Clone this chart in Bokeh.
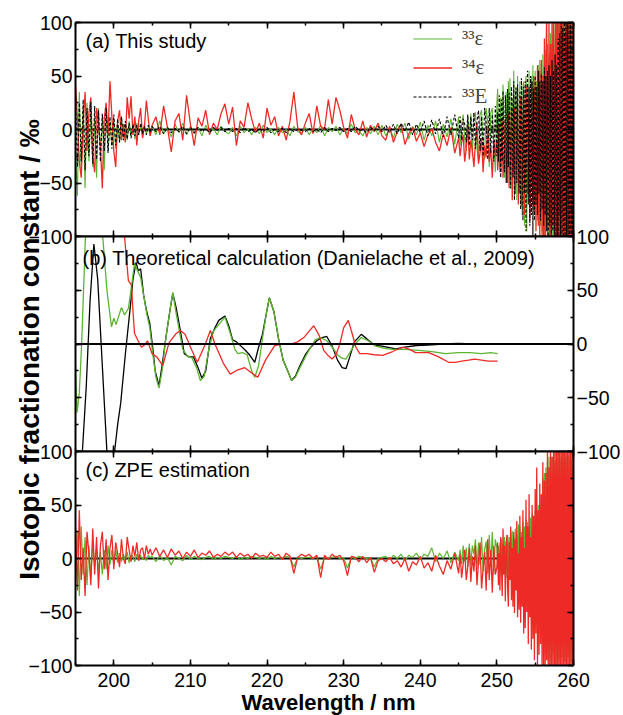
import numpy as np
from bokeh.plotting import figure
from bokeh.layouts import column, row
from bokeh.models import (Range1d, LinearAxis, SingleIntervalTicker, Span, Label,
                          Legend, LegendItem)
from bokeh.embed import file_html
from bokeh.resources import INLINE

# ---------------- data ----------------
# wavelength grid of the measured / ZPE spectra (nm)
WL = np.concatenate([np.arange(195.0, 204.9, 0.25),   # 40 values
                     np.arange(205.0, 244.6, 0.5),    # 80 values
                     np.arange(245.0, 249.9, 0.2),    # 25 values
                     np.arange(250.0, 260.05, 0.1)])  # 101 values

# (a) This study -------------------------------------------------
A_E33 = [  # 33-epsilon (green)
    -20, -62, 35, -40, 20, -55, 25, -30, 15, -35,
    10, -45, 20, -25, 12, -38, 18, -20, 8, -15,
    10, -18, 6, -12, 12, -8, 5, -10, 8, -6,
    4, -9, 6, -5, 3, -7, 5, -4, 2, -6,
    3, -5, 8, -4, 2, -7, 5, -3, 6, -5,
    3, -4, 2, -6, 4, -3, 1, -5, 3, -2,
    -4, 2, -6, 3, -3, 1, -5, 2, -4, 4,
    -3, 1, -5, 2, -3, 0, -6, 3, -2, -4,
    2, -5, 1, -3, 4, -6, 2, -2, 3, -5,
    1, -4, 5, -3, -1, -6, 2, -4, 3, -5,
    4, -6, 2, -8, 5, -3, 6, -9, 3, -5,
    7, -10, 4, -6, 8, -12, 5, -7, 10, -14,
    12, -15, 5, 14, -10, -20, 12, -8, 15, -25,
    10, 16, -18, -30, 14, 18, -12, -28, 20, 8,
    -35, 16, 20, -15, -40,
    25, 38, -20, -35, 10, 30, -40, -25, 42, 15,
    -45, -30, 35, 20, -50, 45, -25, 48, -55, 10,
    30, -40, 55, -20, -60, 40, -66, 50, -30, -45,
    45, -70, 30, -80, 40, 45, -90, 20, 50, -95,
    40, -60, 55, -30, -70, 50, -45, 60, -75, 30,
    55, -80, 45, -85, 60, -60, 65, -90, 55, -95,
    70, -100, 60, -105, 75, -90, 80, -110, 70, -100,
    90, -105, 80, -110, 95, -100, 100, -110, 100, -105,
    110, -100, 105, -110, 100, -110, 110, -105, 100, -110,
    105, -100, 110, -110, 100, -105, 110, -100, 105, -110,
    95]
A_E34 = [  # 34-epsilon (red)
    42, 10, -30, -45, 5, 35, -20, 15, 30, -25,
    -40, 20, 5, -15, -55, 10, 25, -5, 45, 12,
    -20, -35, 8, 18, -10, 5, -12, 30, 10, 31,
    -5, 12, -15, 8, 20, -8, 3, 27, 10, -6,
    4, 12, -5, 22, 2, -21, 8, 15, -10, 32,
    5, -15, 11, 3, 18, -5, 6, 0, 15, 24,
    5, 21, -15, 8, 2, 25, 10, -3, 6, -8,
    20, 4, 12, -6, 3, -10, 8, 35, 2, -5,
    6, 15, -4, 22, 3, 0, 28, 5, 30, 18,
    2, -8, 14, 0, -5, 8, -7, 4, -2, 6,
    -6, -10, 3, -12, -2, 5, -14, -4, 2, -11,
    -3, -16, -5, 1, -12, -20, -4, -15, 2, -22,
    -8, -25, -12, -5, -30, -18, 4, -28, -10, -20,
    -35, -12, 6, -32, -22, -8, -40, -15, -26, 3,
    -30, -18, -45, -10, -25,
    -10, -38, -20, 5, -40, -25, -15, 8, -45, -30,
    -20, 10, -50, -28, -12, 15, -55, -35, -25, 18,
    -66, -40, -15, 20, -60, -30, -20, 25, -70, -45,
    -30, 30, -72, -50, -10, 35, -80, -40, -20, 40,
    -60, -25, 30, -85, -50, 45, -40, -70, 50, -80,
    40, -95, -30, 60, -90, 55, -100, 20, 65, -100,
    50, -105, 85, -110, 60, 110, -100, -60, 100, -105,
    80, -110, 110, -90, 100, -110, 60, 110, -100, 100,
    -110, 110, -80, 100, -110, 105, -100, 110, -110, 90,
    -100, 110, -110, 110, -105, 100, -110, 110, -100, 110,
    -100]
A_CE33 = [  # capital 33E (black dashed)
    30, -35, 25, -30, 28, -38, 20, -25, 26, -32,
    22, -28, 18, -30, 15, -20, 20, -22, 12, -18,
    14, -15, 10, -12, 12, -10, 8, -9, 6, -8,
    5, -6, 4, -5, 6, -4, 3, -5, 4, -3,
    3, -2, 3, -4, 2, -3, 1, -2, 3, -4,
    2, -3, 2, -2, 1, -3, 2, -1, 2, -2,
    1, -2, 1, -3, 2, -2, 0, -3, 1, -2,
    2, -3, 0, -2, 1, -3, 1, -2, 0, -1,
    -2, 1, -2, 0, -3, 2, -2, 1, -1, 2,
    -2, 1, -2, 3, -1, 0, -3, 2, -1, 3,
    -2, 4, -3, 5, -4, 6, -2, 7, -5, 5,
    -3, 8, -6, 9, -4, 10, -7, 12, -5, 14,
    -8, 12, -10, 10, 5, -12, 14, -15, 12, -10,
    16, -18, 8, 18, -20, 12, -25, 20, 6, -28,
    20, -22, 14, -30, 22,
    -25, 16, -30, 32, 10, -45, 28, -30, 36, -20,
    -40, 32, 15, -50, 38, -35, 34, -15, -55, 40,
    20, -45, 45, -66, 30, 39, -50, 42, -25, -60,
    35, -75, 48, 10, -85, 40, -60, 45, -95, 30,
    55, -70, 40, -90, 50, -80, 45, -100, 38, -85,
    50, -70, 40, -80, 55, -60, 45, -85, 52, -75,
    45, -90, 58, -80, 50, -95, 55, -100, 60, -90,
    50, -100, 65, -95, 55, -105, 70, -100, 60, -110,
    85, -105, 90, -110, 100, -100, 95, -110, 105, -100,
    110, -100, 105, -110, 100, -110, 110, -105, 100, -110,
    90]

# (c) ZPE estimation ---------------------------------------------
C_E33 = [
    -20, 25, -35, 30, -15, 20, -25, 12, -18, 15,
    -8, 10, -12, 6, -15, 8, -10, 12, -6, 8,
    -5, 8, -4, 5, -3, 4, -2, 6, -4, 3,
    2, -3, 4, -2, 3, -1, 2, -2, 3, 1,
    2, -3, 3, -2, 1, -6, 2, 0, -2, 3,
    -1, 2, 0, -1, 1, 2, -1, 1, 0, 2,
    1, 0, 2, -1, 1, 0, 2, 1, 0, 1,
    -1, 2, 0, 1, 0, 2, 1, -8, 1, 0,
    1, 1, 0, 2, -10, 1, 0, 1, 2, 0,
    1, -9, 1, 0, 2, 1, 0, 1, -8, 0,
    1, 2, -1, 3, 0, 4, -2, 3, 1, 5,
    -1, 4, 2, 10, -3, 5, 0, 7, -4, 6,
    -2, 8, -5, 12, -3, 10, -8, 14, -6, 12,
    4, 18, -10, 15, -6, 20, -12, 8, 16, -14,
    22, -8, 25, -15, 18,
    10, -5, 12, -10, 15, -8, 18, -12, 14, -15,
    20, -10, 16, -18, 22, -14, 20, -20, 24, -16,
    26, -22, 20, -25, 28, -26, 22, -30, 32, -34,
    30, -35, 25, -38, 34, -40, 30, -44, 36, -42,
    34, -46, 30, -50, 38, -48, 42, -52, 36, -55,
    45, -60, 40, -62, 50, -66, 42, -70, 55, -68,
    75, -85, 80, -90, 85, -88, 90, -95, 95, -82,
    90, -100, 95, -90, 100, -95, 90, -100, 95, -92,
    100, -95, 90, -100, 95, -92, 100, -105, 92, -96,
    95, -100, 100, -92, 96, -105, 92, -97, 100, -94,
    100]
C_E34 = [
    30, -30, 45, -20, 10, -35, 25, 5, -25, 28,
    -15, 20, -28, 12, 25, -10, 18, -20, 10, 22,
    -10, 15, 5, -8, 18, 0, -5, 20, 8, -3,
    12, 2, 15, -2, 8, 10, 0, 12, 4, 9,
    3, 10, 2, 8, 1, 9, 3, 7, 0, 6,
    2, 8, 1, 5, 3, 7, 1, 4, 2, 6,
    3, 6, 1, 5, 2, 4, 0, 5, 2, 3,
    1, 6, 2, 4, -1, 5, 2, -14, 1, 4,
    2, 4, 0, 3, -18, 3, -1, 4, 1, 3,
    -2, -16, 2, 1, -3, 2, -4, 1, -13, -2,
    0, -3, 1, -5, -2, -8, 0, -12, -3, -6,
    2, -9, -4, -12, 3, -7, -15, -2, -10, 5,
    -14, 4, -18, -5, 8, -20, -8, 10, -22, 2,
    -12, 12, -25, -3, 15, -28, -10, 6, -30, 18,
    -20, 8, -32, 12, -15,
    -8, 15, -25, 5, -30, 20, -10, -35, 28, -15,
    12, -40, 5, 22, -28, -45, 15, -20, 30, -39,
    10, -45, 25, -51, 18, -30, 35, -55, 5, -48,
    40, -60, 20, -45, 45, -70, 10, -65, 55, -50,
    30, -80, 60, -55, 20, -85, 50, -75, 40, -95,
    65, -70, 85, -100, 45, -90, 70, -80, 60, -105,
    90, -100, 73, -110, 80, -95, 100, -110, 85, -100,
    105, -110, 95, -100, 110, -110, 100, -105, 110, -110,
    100, -110, 110, -105, 100, -110, 110, -100, 105, -110,
    110, -105, 100, -110, 110, -110, 105, -100, 110, -110,
    100]

# (b) Theoretical calculation (Danielache et al., 2009) -----------
B_E33_WL = [195.0, 195.2, 195.5, 195.8, 196.1, 196.3, 197.0, 198.0, 198.6, 199.1,
            199.7, 200.0, 200.3, 200.6, 201.0, 201.4, 201.9, 202.3, 202.7, 203.1,
            203.5, 203.9, 204.3, 204.7, 205.1, 205.5, 205.9, 206.3, 206.8, 207.3,
            207.7, 208.1, 208.5, 209.0, 209.6, 210.2, 210.8, 211.3, 211.8, 212.4,
            213.0, 213.7, 214.5, 215.2, 215.8, 216.2, 216.8, 217.4, 218.0, 218.4,
            218.9, 219.4, 219.9, 220.3, 220.9, 221.5, 222.1, 222.7, 223.2, 223.7,
            224.3, 225.0, 225.7, 226.3, 227.0, 227.8, 228.5, 229.2, 229.7, 230.3,
            230.8, 231.5, 232.3, 233.2, 234.2, 235.3, 236.4, 238.0, 239.8, 241.5,
            243.3, 245.0, 246.5, 248.0, 249.2, 250.1]
B_E33 = [-20, -64, -45, 0, 60, 100, 140, 130, 96, 50,
         16, 24, 18, 25, 34, 27, 33, 53, 75, 68,
         62, 45, 28, 15, -10, -31, -41, -25, 6, 30,
         48, 30, 14, -5, -11, -13, -22, -34, -30, -5,
         12, 18, 25, 10, -5, -9, -8, -10, -25, -31,
         -20, 5, 28, 43, 30, 5, -15, -25, -34, -31,
         -22, -12, -3, 4, 6, 3, -3, -10, -13, -14,
         -8, 0, 6, 3, -2, -4, -5, -5, -6, -7,
         -9, -8, -8, -9, -8, -9]
B_E34_WL = [200.6, 201.4, 201.9, 202.3, 202.5, 202.7, 203.1, 203.6, 204.0, 204.4,
            205.0, 205.6, 206.4, 207.2, 208.1, 208.7, 209.3, 210.2, 210.9, 211.9,
            212.6, 213.2, 214.3, 215.2, 216.2, 217.1, 218.0, 218.8, 219.8, 221.0,
            222.0, 223.1, 224.0, 224.8, 225.5, 226.1, 226.8, 227.4, 228.0, 228.5,
            229.0, 229.5, 230.0, 230.6, 231.1, 231.6, 232.1, 233.0, 234.0, 235.1,
            236.4, 237.7, 238.6, 239.4, 240.3, 241.1, 242.4, 243.7, 244.6, 245.4,
            246.3, 247.1, 248.0, 248.9, 249.5, 250.1]
B_E34 = [140, 100, 59, 55, 31, 10, 4, -3, -1, 3,
         -9, -12, -20, 1, 9.5, 12.6, 9, -6, -17, -1,
         12.5, 0, -18, -28, -24, -22, -27, -31, -15, -1.5,
         0, 0, 2, 6, 12, 17, 8, -6, -11, -14,
         -10, 0, 15, 22, 10, -3, -9, -9, -10, -10.6,
         -7, -3, -5, -8, -8, -8, -12, -17, -17, -16,
         -15, -14, -15, -16, -16, -16]
B_CE33_WL = [195.9, 196.4, 196.9, 197.4, 197.9, 198.5, 199.1, 199.6, 200.1, 200.5,
             200.9, 201.5, 202.1, 202.5, 202.9, 203.2, 203.5, 203.9, 204.3, 204.7,
             205.1, 205.4, 205.9, 206.3, 206.8, 207.3, 207.7, 208.1, 208.5, 209.2,
             209.8, 210.4, 211.0, 211.5, 212.0, 212.6, 213.2, 213.7, 214.5, 215.0,
             215.5, 216.0, 216.6, 217.2, 217.7, 218.4, 218.9, 219.4, 219.9, 220.3,
             220.9, 221.5, 222.1, 222.7, 223.2, 223.7, 224.3, 225.0, 225.7, 226.5,
             227.2, 227.8, 228.5, 229.2, 229.8, 230.3, 230.8, 231.4, 232.3, 233.0,
             234.0, 235.0, 236.8, 238.0, 239.5, 241.0, 243.0, 245.0, 246.8, 248.4]
B_CE33 = [-100, -40, 40, 93, 60, -20, -100, -120, -100, -75,
          -55, -10, 31, 60, 76, 68, 70, 45, 30, 19,
          -5, -25, -39, -20, 6, 30, 47, 35, 20, -9,
          -12, -12, -22, -32, -25, 5, 15, 22, 26, 17,
          4, 2, -2, -6, -10, -17, -3, 9, 28, 43,
          30, 5, -15, -25, -34, -30, -20, -10, -3, 3,
          6, 7, -2, -15, -22, -23, -12, 2, 9, 5,
          -1, -2, -4.5, -3, -1.4, -1, 0, 0.5, 0, 0]

PANEL_TEXT = ["(a) This study",
              "(b) Theoretical calculation (Danielache et al., 2009)",
              "(c) ZPE estimation"]
LEGEND_LABELS = ["\u00b3\u00b3\u03b5", "\u00b3\u2074\u03b5", "\u00b3\u00b3E"]
Y_TITLE = "Isotopic fractionation constant / \u2030"
X_TITLE = "Wavelength / nm"

GREEN = "#5cb531"
RED = "#ee2a26"
SANS = "Liberation Sans"
SERIF = "Liberation Serif"
TICK_FS = "19.5px"

# ---------------- layout helpers ----------------
XR = Range1d(195, 260)
PAD = 14   # transparent overlap band between stacked panels


def make_panel(height, top, bottom, left_lab, right_lab, bottom_lab, margin):
    p = figure(width=623, height=height, x_range=XR, y_range=Range1d(-100, 100),
               output_backend="svg", toolbar_location=None,
               x_axis_location=None, y_axis_location=None,
               min_border_left=75, min_border_right=42,
               min_border_top=top, min_border_bottom=bottom, margin=margin)
    p.xgrid.visible = False
    p.ygrid.visible = False
    p.outline_line_color = None
    p.border_fill_alpha = 0
    p.background_fill_color = "white"
    specs = [("left", left_lab, 50), ("right", right_lab, 50),
             ("above", False, 10), ("below", bottom_lab, 10)]
    for loc, lab, iv in specs:
        ax = LinearAxis(ticker=SingleIntervalTicker(interval=iv, num_minor_ticks=2))
        ax.axis_line_width = 2
        ax.axis_line_color = "black"
        ax.major_tick_in = 6
        ax.major_tick_out = 0
        ax.minor_tick_in = 3
        ax.minor_tick_out = 0
        ax.major_tick_line_width = 1.5
        ax.minor_tick_line_width = 1.5
        ax.major_label_text_font = SANS
        ax.major_label_text_font_size = TICK_FS
        if lab:
            ax.major_label_text_color = "black"
            ax.major_label_standoff = 7 if loc == "below" else 3
        else:
            ax.major_label_text_color = None
            ax.major_label_standoff = 0
        p.add_layout(ax, loc)
    return p


p1 = make_panel(22 + 214 + PAD, 22, PAD, True, False, False, (0, 0, 0, 0))
p2 = make_panel(PAD + 215 + PAD, PAD, PAD, False, True, False, (-2 * PAD, 0, 0, 0))
p3 = make_panel(PAD + 214 + 50, PAD, 50, True, False, True, (-2 * PAD, 0, 0, 0))

# zero lines
p1.add_layout(Span(location=0, dimension="width", line_color="black",
                   line_width=2, level="underlay"))
p2.add_layout(Span(location=0, dimension="width", line_color="black", line_width=2))
p3.add_layout(Span(location=0, dimension="width", line_color="black",
                   line_width=2, level="underlay"))

# panel (a)
rg = p1.line(WL, A_E33, line_color=GREEN, line_width=1.1)
rr = p1.line(WL, A_E34, line_color=RED, line_width=1.3)
rk = p1.line(WL, A_CE33, line_color="black", line_width=1.1, line_dash="3 2")

legend = Legend(items=[LegendItem(label=LEGEND_LABELS[0], renderers=[rg]),
                       LegendItem(label=LEGEND_LABELS[1], renderers=[rr]),
                       LegendItem(label=LEGEND_LABELS[2], renderers=[rk])],
                location=(338, 125), orientation="vertical",
                glyph_width=39, glyph_height=29, label_height=29, spacing=0,
                padding=0, margin=0, label_standoff=10,
                label_text_font=SERIF, label_text_font_size="21px",
                background_fill_alpha=0, border_line_color=None)
p1.add_layout(legend)

# panel (b)
p2.line(B_CE33_WL, B_CE33, line_color="black", line_width=1.3)
p2.line(B_E33_WL, B_E33, line_color=GREEN, line_width=1.3)
p2.line(B_E34_WL, B_E34, line_color=RED, line_width=1.3)

# panel (c)
p3.line(WL, C_E33, line_color=GREEN, line_width=1.2)
p3.line(WL, C_E34, line_color=RED, line_width=1.3)

# panel captions (screen units from the frame's lower-left corner)
for p, txt, dx, dy in [(p1, PANEL_TEXT[0], 10, 196),
                       (p2, PANEL_TEXT[1], 7, 194),
                       (p3, PANEL_TEXT[2], 10, 196)]:
    p.add_layout(Label(x=dx, y=dy, x_units="screen", y_units="screen", text=txt,
                       text_font=SANS, text_font_size="20px", text_color="black",
                       text_baseline="alphabetic", text_align="left"))

# background figure carrying the two axis titles, overlapped by the panels
bg = figure(width=623, height=715, x_range=Range1d(0, 623), y_range=Range1d(0, 715),
            output_backend="svg", toolbar_location=None,
            x_axis_location=None, y_axis_location=None,
            min_border=0, margin=(0, -623, 0, 0))
bg.xgrid.visible = False
bg.ygrid.visible = False
bg.outline_line_color = None
bg.background_fill_alpha = 0
bg.border_fill_alpha = 0
bg.add_layout(Label(x=29, y=366, text=Y_TITLE, angle=np.pi / 2,
                    text_font=SANS, text_font_size="28px", text_font_style="bold",
                    text_align="center", text_baseline="middle", text_color="black"))
bg.add_layout(Label(x=328, y=13, text=X_TITLE,
                    text_font=SANS, text_font_size="22px", text_font_style="bold",
                    text_align="center", text_baseline="alphabetic", text_color="black"))

panels = column(p1, p2, p3, spacing=0)
layout = row(bg, panels)

open("out.html", "w").write(file_html(layout, INLINE))
